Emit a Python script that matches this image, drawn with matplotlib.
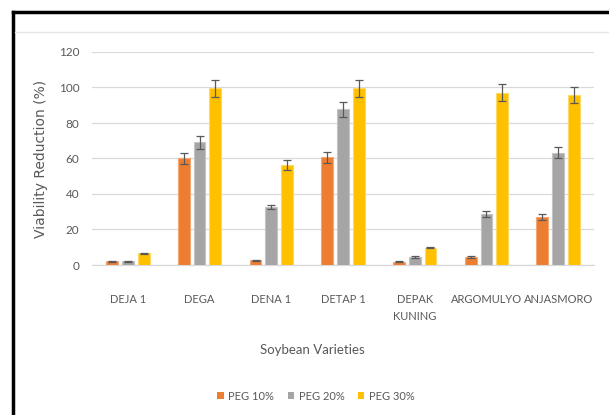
import numpy as np
import matplotlib
matplotlib.use("Agg")
import matplotlib.pyplot as plt
from matplotlib.patches import Patch
from matplotlib.lines import Line2D

plt.rcParams['font.family'] = ['Lato', 'DejaVu Sans']

# data
varieties = ['DEJA 1', 'DEGA', 'DENA 1', 'DETAP 1', 'DEPAK\nKUNING', 'ARGOMULYO', 'ANJASMORO']
peg10 = [2.0, 60.0, 2.6, 60.7, 1.9, 4.6, 27.0]
peg20 = [2.0, 69.1, 32.9, 87.7, 4.5, 28.9, 63.3]
peg30 = [6.5, 99.5, 56.3, 99.5, 9.8, 97.1, 95.8]
err10 = [0.3, 3.2, 0.4, 3.1, 0.2, 0.4, 1.7]
err20 = [0.3, 3.6, 1.1, 4.3, 0.4, 1.8, 3.0]
err30 = [0.4, 4.7, 2.8, 4.7, 0.4, 4.7, 4.7]
series = ['PEG 10%', 'PEG 20%', 'PEG 30%']
colors = ['#ED7D31', '#A5A5A5', '#FFC000']
edges = ['#F4A675', '#C4C4C4', '#FFD966']

fig = plt.figure(figsize=(6.09, 4.15), dpi=100)
ax = fig.add_axes([92/609, 1-265/415, (594-92)/609, (265-52)/415])

x = np.arange(len(varieties))
w = 0.165
off = 0.22
for i, (vals, errs) in enumerate([(peg10, err10), (peg20, err20), (peg30, err30)]):
    ax.bar(x + (i-1)*off, vals, w, color=colors[i], edgecolor=edges[i], linewidth=0.8, zorder=3)
    ax.errorbar(x + (i-1)*off, vals, yerr=errs, fmt='none', ecolor='#595959',
                elinewidth=0.9, capsize=3, capthick=0.9, zorder=4)

ax.set_xlim(-0.5, len(varieties)-0.5)
ax.set_ylim(0, 120)
ax.set_yticks(range(0, 121, 20))
ax.set_xticks(x)
ax.set_xticklabels(varieties, fontsize=8, color='#595959', linespacing=1.6)
ax.tick_params(axis='y', labelsize=8.5, labelcolor='#595959', length=0, pad=9)
ax.tick_params(axis='x', length=0, pad=21)
ax.grid(axis='y', color='#D9D9D9', linewidth=0.9, zorder=0)
for s in ['top', 'right', 'left']:
    ax.spines[s].set_visible(False)
ax.spines['bottom'].set_color('#D9D9D9')
ax.spines['bottom'].set_linewidth(0.9)

ax.set_ylabel('Viability Reduction (%)', fontsize=10, color='#595959', labelpad=8,
              family=['DejaVu Sans'])
fig.text(312/609, 1-350/415, 'Soybean Varieties', fontsize=9.5, color='#595959',
         ha='center', va='center')

handles = [Patch(facecolor=c, edgecolor='none') for c in colors]
fig.legend(handles, series, loc='center', bbox_to_anchor=(316/609, 1-396/415), ncol=3,
           frameon=False, fontsize=8, handlelength=0.6, handleheight=0.6,
           handletextpad=0.4, columnspacing=1.2, labelcolor='#595959')

# frame lines around the chart area
fig.add_artist(Line2D([13/609, 1], [1-12/415, 1-12/415], color='black', linewidth=2.5))
fig.add_artist(Line2D([13/609, 13/609], [0, 1-12/415], color='black', linewidth=2.5))
fig.add_artist(Line2D([15/609, 1], [1-32/415, 1-32/415], color='#E6E6E6', linewidth=1))

fig.savefig('out.png', dpi=100)
